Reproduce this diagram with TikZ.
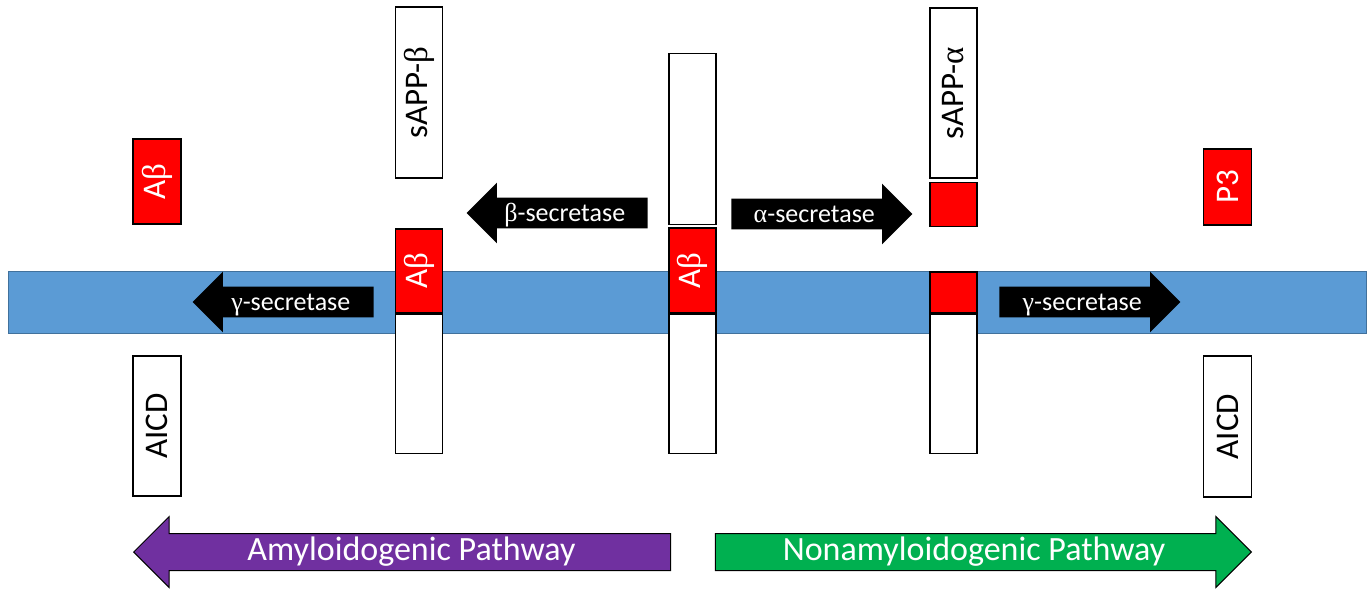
\documentclass[tikz,border=0pt]{standalone}
\usepackage{fontspec}
\setmainfont{Carlito}
\newfontfamily\greekfont{Liberation Serif}
\usetikzlibrary{positioning,shapes.arrows}
\definecolor{Membrane}{HTML}{5B9BD5}
\definecolor{MembraneEdge}{HTML}{41719C}
\definecolor{Frag}{HTML}{FF0000}
\definecolor{Amylo}{HTML}{7030A0}
\definecolor{NonAmylo}{HTML}{00B050}
\newcommand{\gr}[1]{{\greekfont #1}}
\newcommand{\up}[1]{\rotatebox{90}{#1}}

\begin{document}
\begin{tikzpicture}[x=0.5pt, y=-0.5pt,
  frag/.style={draw=black, line width=0.8pt, minimum width=23.5pt, inner sep=0pt, font=\fontsize{16.5}{18}\selectfont},
  abox/.style={frag, fill=Frag, text=white},
  wbox/.style={frag, fill=white},
  enz/.style={single arrow, fill=black, text=white, font=\fontsize{13}{15}\selectfont,
    text height=10pt, text depth=2pt, inner ysep=1.5pt, inner xsep=0pt,
    single arrow head extend=7.5pt, minimum height=90.5pt},
  way/.style={single arrow, draw=black, line width=0.5pt, text=white, font=\fontsize{17}{19}\selectfont,
    text height=11pt, text depth=3pt, inner ysep=2pt,
    single arrow head extend=8.5pt, minimum height=268.5pt}]

\useasboundingbox (0,0) rectangle (1368,588);

% membrane
\node[draw=MembraneEdge, fill=Membrane, minimum width=679pt, minimum height=31pt, inner sep=0pt] (mem) at (687,302) {};

% full APP
\node[abox, minimum height=42.5pt] (appAb) at (692.5,270.5) {\up{A\gr{β}}};
\node[wbox, minimum height=85.5pt, above=1pt of appAb] (app) {};
\node[wbox, minimum height=69.5pt, below=0pt of appAb] (appC) {};

% beta cut
\node[wbox, minimum height=85.5pt] (sappb) at (419,92.5) {\up{sAPP-\gr{β}}};
\node[abox, minimum height=42pt] (bAb) at (419,271) {\up{A\gr{β}}};
\node[wbox, minimum height=69.5pt, below=0pt of bAb] (bC) {};

% alpha cut
\node[wbox, minimum height=85pt] (sappa) at (953.5,93) {\up{sAPP-\gr{α}}};
\node[abox, minimum height=22pt, below=1.5pt of sappa] (aN) {};
\node[abox, minimum height=20.5pt] (aMem) at (953.5,292.5) {};
\node[wbox, minimum height=69.5pt, below=0pt of aMem] (aC) {};

% gamma products
\node[abox, minimum width=24pt, minimum height=42.5pt] (ab) at (157,181.5) {\up{A\gr{β}}};
\node[wbox, minimum width=24pt, minimum height=70pt] (aicdL) at (157,426) {\up{AICD}};
\node[abox, minimum width=24pt, minimum height=38pt] (p3) at (1227.5,187) {\up{P3}};
\node[wbox, minimum width=24pt, minimum height=70.5pt] (aicdR) at (1227.5,426.5) {\up{AICD}};

% secretases
\node[enz, shape border rotate=180, anchor=tip] (bsec) at (466,213) {\gr{β}-secretase};
\node[enz, anchor=tip] (asec) at (913,214) {\gr{α}-secretase};
\node[enz, shape border rotate=180, anchor=tip] (gsecL) at (192,302) {\gr{γ}-secretase};
\node[enz, anchor=tip] (gsecR) at (1181,302) {\gr{γ}-secretase};

% pathways
\node[way, fill=Amylo, shape border rotate=180, anchor=tip] (amy) at (133,552) {Amyloidogenic Pathway};
\node[way, fill=NonAmylo, anchor=tip, minimum height=268pt] (nonamy) at (1252,552) {Nonamyloidogenic Pathway};
\end{tikzpicture}
\end{document}
